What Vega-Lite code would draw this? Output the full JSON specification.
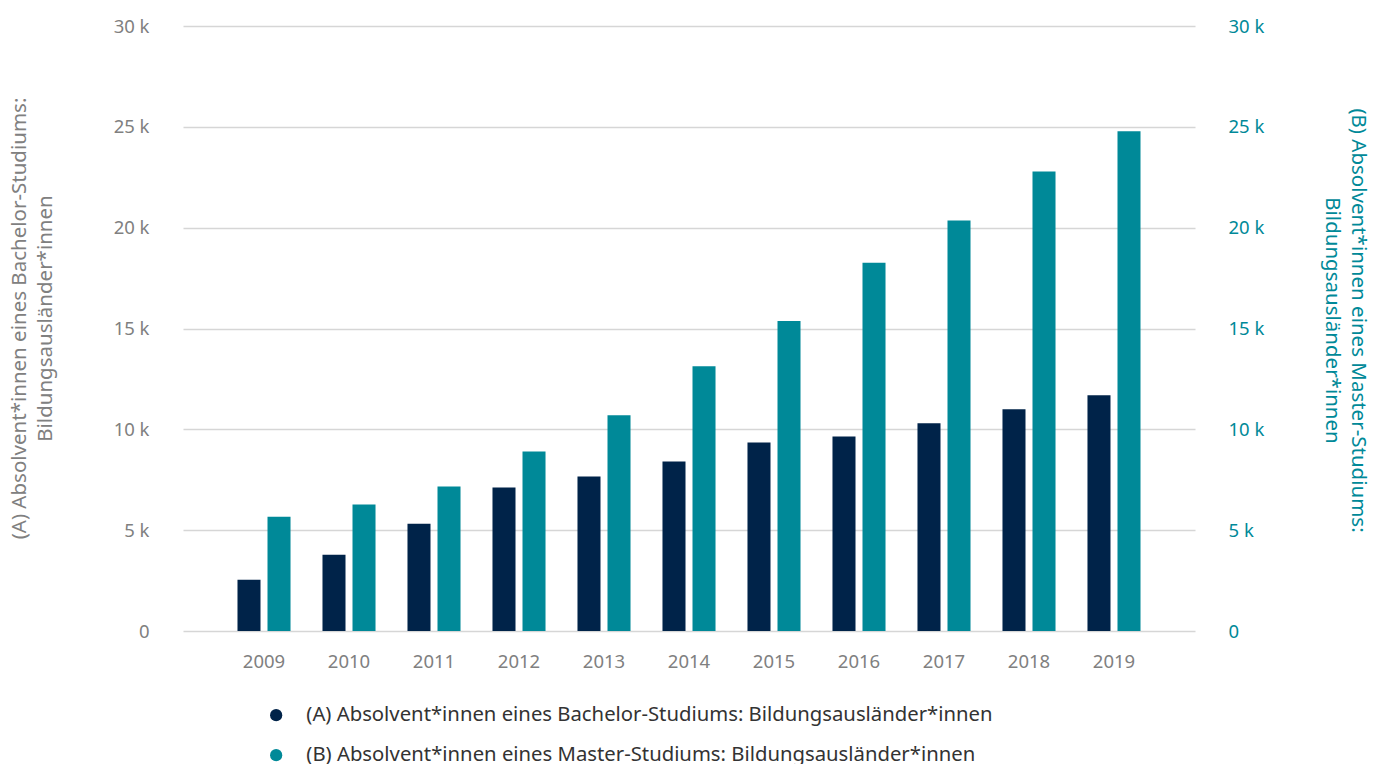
{
  "$schema": "https://vega.github.io/schema/vega-lite/v6.json",
  "width": 1012,
  "height": 605,
  "autosize": {"type": "none"},
  "padding": {"left": 183, "top": 26, "right": 190, "bottom": 133},
  "background": "#ffffff",
  "config": {
    "view": {"stroke": null},
    "font": "Noto Sans",
    "axis": {"labelFont": "Noto Sans", "titleFont": "Noto Sans"},
    "legend": {"labelFont": "Noto Sans"}
  },
  "data": {
    "values": [
      {"year": "2009", "series": "(A) Absolvent*innen eines Bachelor-Studiums: Bildungsausländer*innen", "value": 2540},
      {"year": "2010", "series": "(A) Absolvent*innen eines Bachelor-Studiums: Bildungsausländer*innen", "value": 3780},
      {"year": "2011", "series": "(A) Absolvent*innen eines Bachelor-Studiums: Bildungsausländer*innen", "value": 5320},
      {"year": "2012", "series": "(A) Absolvent*innen eines Bachelor-Studiums: Bildungsausländer*innen", "value": 7110},
      {"year": "2013", "series": "(A) Absolvent*innen eines Bachelor-Studiums: Bildungsausländer*innen", "value": 7660},
      {"year": "2014", "series": "(A) Absolvent*innen eines Bachelor-Studiums: Bildungsausländer*innen", "value": 8410},
      {"year": "2015", "series": "(A) Absolvent*innen eines Bachelor-Studiums: Bildungsausländer*innen", "value": 9350},
      {"year": "2016", "series": "(A) Absolvent*innen eines Bachelor-Studiums: Bildungsausländer*innen", "value": 9650},
      {"year": "2017", "series": "(A) Absolvent*innen eines Bachelor-Studiums: Bildungsausländer*innen", "value": 10300},
      {"year": "2018", "series": "(A) Absolvent*innen eines Bachelor-Studiums: Bildungsausländer*innen", "value": 11000},
      {"year": "2019", "series": "(A) Absolvent*innen eines Bachelor-Studiums: Bildungsausländer*innen", "value": 11690},
      {"year": "2009", "series": "(B) Absolvent*innen eines Master-Studiums: Bildungsausländer*innen", "value": 5670},
      {"year": "2010", "series": "(B) Absolvent*innen eines Master-Studiums: Bildungsausländer*innen", "value": 6270},
      {"year": "2011", "series": "(B) Absolvent*innen eines Master-Studiums: Bildungsausländer*innen", "value": 7160},
      {"year": "2012", "series": "(B) Absolvent*innen eines Master-Studiums: Bildungsausländer*innen", "value": 8900},
      {"year": "2013", "series": "(B) Absolvent*innen eines Master-Studiums: Bildungsausländer*innen", "value": 10700},
      {"year": "2014", "series": "(B) Absolvent*innen eines Master-Studiums: Bildungsausländer*innen", "value": 13130},
      {"year": "2015", "series": "(B) Absolvent*innen eines Master-Studiums: Bildungsausländer*innen", "value": 15370},
      {"year": "2016", "series": "(B) Absolvent*innen eines Master-Studiums: Bildungsausländer*innen", "value": 18260},
      {"year": "2017", "series": "(B) Absolvent*innen eines Master-Studiums: Bildungsausländer*innen", "value": 20350},
      {"year": "2018", "series": "(B) Absolvent*innen eines Master-Studiums: Bildungsausländer*innen", "value": 22790},
      {"year": "2019", "series": "(B) Absolvent*innen eines Master-Studiums: Bildungsausländer*innen", "value": 24780}
    ]
  },
  "encoding": {
    "x": {
      "field": "year",
      "type": "nominal",
      "scale": {"paddingInner": 0.376, "paddingOuter": 0.641},
      "axis": {
        "title": null,
        "labelAngle": 0,
        "labelFontSize": 18.5,
        "labelColor": "#808080",
        "labelPadding": 21,
        "ticks": false,
        "domain": false,
        "grid": false
      }
    },
    "xOffset": {
      "field": "series",
      "type": "nominal",
      "scale": {
        "domain": [
          "(A) Absolvent*innen eines Bachelor-Studiums: Bildungsausländer*innen",
          "(B) Absolvent*innen eines Master-Studiums: Bildungsausländer*innen"
        ],
        "paddingInner": 0.233,
        "paddingOuter": 0
      }
    },
    "color": {
      "field": "series",
      "type": "nominal",
      "scale": {
        "domain": [
          "(A) Absolvent*innen eines Bachelor-Studiums: Bildungsausländer*innen",
          "(B) Absolvent*innen eines Master-Studiums: Bildungsausländer*innen"
        ],
        "range": ["#002349", "#008998"]
      },
      "legend": {
        "title": null,
        "orient": "none",
        "legendX": 83,
        "legendY": 679,
        "direction": "vertical",
        "symbolType": "circle",
        "symbolSize": 150,
        "symbolStrokeWidth": 0,
        "labelFontSize": 20.3,
        "labelColor": "#333333",
        "labelOffset": 20,
        "labelLimit": 900,
        "rowPadding": 19
      }
    }
  },
  "layer": [
    {
      "transform": [{"filter": "indexof(datum.series, '(A)') == 0"}],
      "mark": {"type": "bar"},
      "encoding": {
        "y": {
          "field": "value",
          "type": "quantitative",
          "scale": {"domain": [0, 30000], "nice": false},
          "axis": {
            "orient": "left",
            "values": [0, 5000, 10000, 15000, 20000, 25000, 30000],
            "labelExpr": "datum.value == 0 ? '0' : (datum.value / 1000) + ' k'",
            "labelFontSize": 18.5,
            "labelColor": "#808080",
            "labelPadding": 34,
            "ticks": false,
            "domain": false,
            "grid": true,
            "gridColor": "#d6d6d6",
            "gridWidth": 1.5,
            "title": ["(A) Absolvent*innen eines Bachelor-Studiums:", "Bildungsausländer*innen"],
            "titleFontSize": 20.5,
            "titleFontWeight": "normal",
            "titleColor": "#808080",
            "titleAngle": -90,
            "titleBaseline": "middle",
            "titleLineHeight": 26,
            "titleX": -164,
            "titleY": 292,
            "titleAlign": "center"
          }
        }
      }
    },
    {
      "transform": [{"filter": "indexof(datum.series, '(B)') == 0"}],
      "mark": {"type": "bar"},
      "encoding": {
        "y": {
          "field": "value",
          "type": "quantitative",
          "scale": {"domain": [0, 30000], "nice": false},
          "axis": {
            "orient": "right",
            "values": [0, 5000, 10000, 15000, 20000, 25000, 30000],
            "labelExpr": "datum.value == 0 ? '0' : (datum.value / 1000) + ' k'",
            "labelFontSize": 18.5,
            "labelColor": "#008998",
            "labelPadding": 33,
            "ticks": false,
            "domain": false,
            "grid": false,
            "title": ["(B) Absolvent*innen eines Master-Studiums:", "Bildungsausländer*innen"],
            "titleFontSize": 20.5,
            "titleFontWeight": "normal",
            "titleColor": "#008998",
            "titleAngle": 90,
            "titleBaseline": "middle",
            "titleLineHeight": 26,
            "titleX": 162,
            "titleY": 294,
            "titleAlign": "center"
          }
        }
      }
    }
  ],
  "resolve": {"scale": {"y": "independent"}}
}
